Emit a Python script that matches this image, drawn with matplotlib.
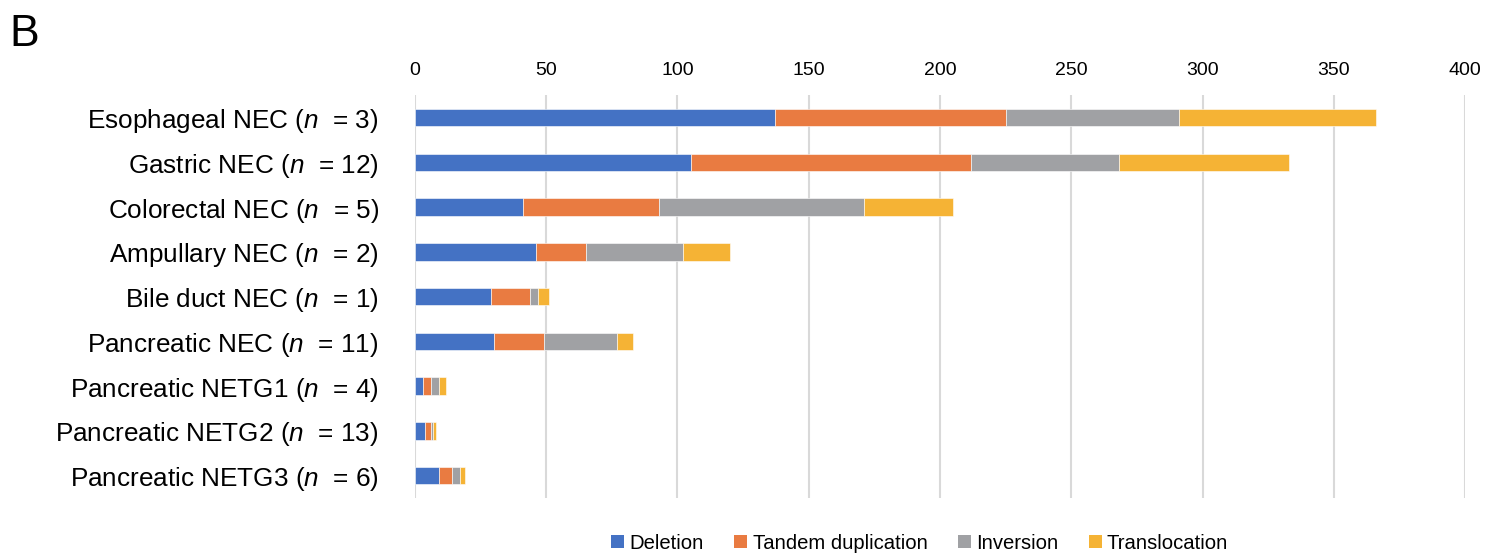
import matplotlib
matplotlib.use("Agg")
import matplotlib.pyplot as plt
from matplotlib.patches import Patch
import numpy as np

plt.rcParams['font.family'] = ['Liberation Sans', 'DejaVu Sans']
plt.rcParams['mathtext.fontset'] = 'custom'
plt.rcParams['mathtext.rm'] = 'Liberation Sans'
plt.rcParams['mathtext.it'] = 'Liberation Sans:italic'

categories = ["Esophageal NEC", "Gastric NEC", "Colorectal NEC", "Ampullary NEC",
              "Bile duct NEC", "Pancreatic NEC", "Pancreatic NETG1",
              "Pancreatic NETG2", "Pancreatic NETG3"]
n_values = [3, 12, 5, 2, 1, 11, 4, 13, 6]

deletion = [137, 105, 41, 46, 29, 30, 3, 4, 9]
tandem_dup = [88, 107, 52, 19, 15, 19, 3, 2, 5]
inversion = [66, 56, 78, 37, 3, 28, 3, 1, 3]
translocation = [75, 65, 34, 18, 4, 6, 3, 1, 2]

series_names = ["Deletion", "Tandem duplication", "Inversion", "Translocation"]
series = [deletion, tandem_dup, inversion, translocation]
colors = ["#4472C4", "#E97B41", "#A0A1A4", "#F5B335"]

xticks = [0, 50, 100, 150, 200, 250, 300, 350, 400]

fig = plt.figure(figsize=(14.98, 5.57), dpi=100)
ax = fig.add_axes([0.277, 0.106, 0.701, 0.723])

y = np.arange(len(categories))
left = np.zeros(len(categories))
for vals, c in zip(series, colors):
    vals = np.array(vals, dtype=float)
    ax.barh(y, vals, left=left, height=0.39, color=c, edgecolor='white',
            linewidth=0.4, zorder=3)
    left += vals

labels = [f"{c} ($\\it{{n}}$  = {n})" for c, n in zip(categories, n_values)]
ax.set_yticks(y)
ax.set_yticklabels(labels, fontsize=18.8)
ax.set_ylim(len(categories) - 0.5, -0.5)

ax.set_xlim(0, 400)
ax.set_xticks(xticks)
ax.set_xticklabels([str(t) for t in xticks], fontsize=14)
ax.xaxis.tick_top()
ax.tick_params(axis='x', length=0, pad=12)
ax.tick_params(axis='y', length=0, pad=26)
ax.grid(axis='x', color='#D9D9D9', linewidth=1.5, zorder=0)
for s in ax.spines.values():
    s.set_visible(False)

handles = [Patch(facecolor=c, edgecolor='none', label=n) for n, c in zip(series_names, colors)]
fig.legend(handles=handles, loc='center', bbox_to_anchor=(0.614, 0.025), ncol=4,
           frameon=False, fontsize=14.6, handlelength=0.65, handleheight=0.65,
           handletextpad=0.25, columnspacing=1.5)

fig.text(0.006, 0.975, "B", fontsize=32, ha='left', va='top')

fig.savefig("out.png", dpi=100)
